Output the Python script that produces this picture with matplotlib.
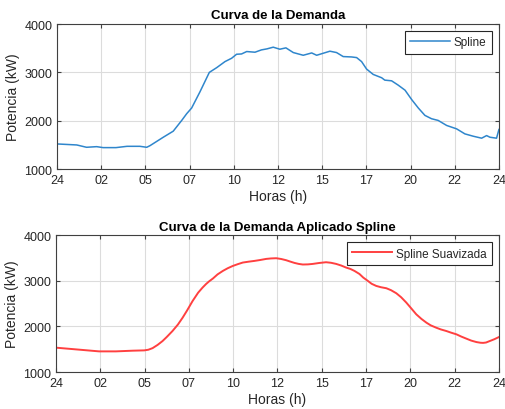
import numpy as np
import matplotlib.pyplot as plt

plt.rcParams['font.family'] = ['Liberation Sans', 'DejaVu Sans']

# demanda medida (horas, kW)
horas = [0.0, 1.07, 1.6, 2.15, 2.5, 3.2, 3.8, 4.5, 4.87, 5.05, 5.77, 6.31, 6.77,
         7.04, 7.31, 7.76, 8.27, 8.67, 9.12, 9.48, 9.75, 10.02, 10.3, 10.75, 11.1,
         11.4, 11.74, 12.1, 12.43, 12.83, 13.37, 13.83, 14.1, 14.46, 14.82, 15.18,
         15.54, 16.0, 16.27, 16.54, 16.81, 17.17, 17.63, 17.8, 18.17, 18.53, 18.9,
         19.26, 19.62, 19.98, 20.34, 20.7, 21.16, 21.7, 22.15, 22.6, 23.06, 23.33,
         23.51, 23.87, 24.0]
demanda = [1521, 1500, 1452, 1465, 1445, 1445, 1472, 1472, 1452, 1486, 1660, 1785,
           2007, 2146, 2264, 2597, 3000, 3098, 3223, 3292, 3375, 3381, 3431, 3417,
           3465, 3486, 3521, 3479, 3507, 3410, 3354, 3402, 3354, 3396, 3438, 3410,
           3327, 3319, 3306, 3223, 3069, 2958, 2889, 2840, 2826, 2736, 2632, 2438,
           2264, 2111, 2042, 2007, 1903, 1833, 1729, 1681, 1640, 1694, 1660, 1640,
           1820]

# demanda suavizada (horas, kW)
horas_s = [0.0, 1.07, 2.33, 3.24, 4.15, 4.78, 5.0, 5.23, 5.5, 5.77, 6.0, 6.31,
           6.6, 6.86, 7.1, 7.4, 7.7, 7.94, 8.13, 8.3, 8.5, 8.75, 9.04, 9.3, 9.58,
           9.85, 10.12, 10.45, 10.75, 11.05, 11.39, 11.65, 11.93, 12.2, 12.47,
           12.7, 12.92, 13.15, 13.37, 13.65, 13.91, 14.25, 14.63, 14.9, 15.18,
           15.45, 15.72, 15.95, 16.17, 16.44, 16.65, 16.9, 17.1, 17.35, 17.6,
           17.9, 18.15, 18.44, 18.7, 18.98, 19.25, 19.52, 19.8, 20.07, 20.3, 20.6,
           20.85, 21.15, 21.4, 21.7, 21.95, 22.24, 22.5, 22.78, 23.0, 23.14, 23.3,
           23.5, 23.75, 24.0]
demanda_s = [1535, 1498, 1454, 1454, 1469, 1476, 1490, 1525, 1595, 1680, 1770,
             1900, 2040, 2193, 2350, 2558, 2740, 2852, 2930, 2990, 3050, 3140,
             3217, 3275, 3326, 3365, 3400, 3420, 3436, 3455, 3480, 3490, 3495,
             3478, 3451, 3420, 3392, 3370, 3357, 3360, 3370, 3390, 3407, 3395,
             3370, 3335, 3290, 3260, 3217, 3150, 3070, 2997, 2935, 2888, 2860,
             2837, 2795, 2727, 2640, 2523, 2395, 2266, 2165, 2083, 2025, 1973,
             1935, 1900, 1865, 1827, 1780, 1732, 1690, 1658, 1643, 1640, 1648,
             1680, 1720, 1768]

ticks = np.linspace(0, 24, 11)
tick_labels = ['24', '02', '05', '07', '10', '12', '15', '17', '20', '22', '24']


def style_axes(ax, title):
    ax.set_xlim(0, 24)
    ax.set_ylim(1000, 4000)
    ax.set_xticks(ticks)
    ax.set_xticklabels(tick_labels)
    ax.set_yticks([1000, 2000, 3000, 4000])
    ax.grid(True, color='#dcdcdc', linewidth=0.8)
    ax.set_axisbelow(True)
    for s in ax.spines.values():
        s.set_color('#404040')
        s.set_linewidth(0.8)
    ax.tick_params(direction='in', length=3, width=0.8, colors='#404040',
                   labelcolor='#262626', labelsize=9, top=True, right=True)
    ax.set_title(title, fontsize=9.5, fontweight='bold', pad=4)
    ax.set_xlabel('Horas (h)', fontsize=10, color='#262626', labelpad=2)
    ax.set_ylabel('Potencia (kW)', fontsize=10, color='#262626', labelpad=3)


def add_legend(ax):
    leg = ax.legend(loc='upper right', fontsize=8.5, fancybox=False,
                    framealpha=1, edgecolor='#262626', handlelength=3.4,
                    borderpad=0.45, handletextpad=0.3, borderaxespad=0.6)
    leg.get_frame().set_linewidth(0.8)
    for t in leg.get_texts():
        t.set_color('#262626')


fig = plt.figure(figsize=(5.05, 4.1), dpi=100)
ax1 = fig.add_axes([0.113, 0.585, 0.875, 0.354])
ax2 = fig.add_axes([0.111, 0.090, 0.877, 0.334])

ax1.plot(horas, demanda, color='#2f86cc', linewidth=1.1, label='Spline')
style_axes(ax1, 'Curva de la Demanda')
add_legend(ax1)

ax2.plot(horas_s, demanda_s, color='#ff4040', linewidth=1.4,
         label='Spline Suavizada')
style_axes(ax2, 'Curva de la Demanda Aplicado Spline')
add_legend(ax2)

fig.savefig('out.png', dpi=100)
